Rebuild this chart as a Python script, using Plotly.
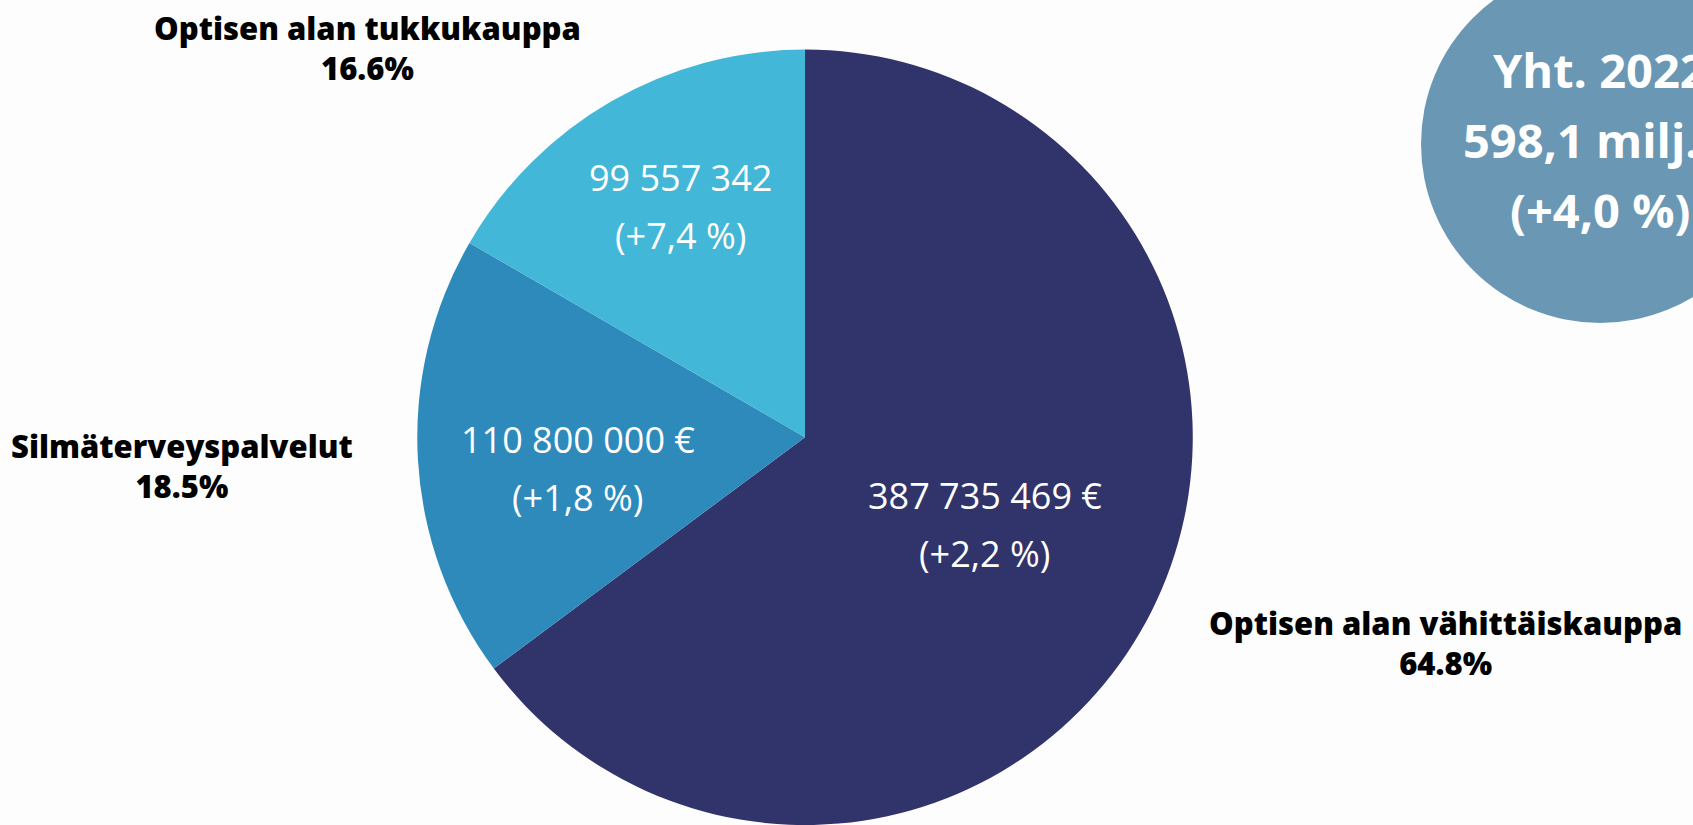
import math
import plotly.graph_objects as go

# ---- data ----
categories = ["Optisen alan vähittäiskauppa", "Silmäterveyspalvelut", "Optisen alan tukkukauppa"]
values = [387735469, 110800000, 99557342]
value_labels = ["387 735 469 €", "110 800 000 €", "99 557 342"]
change_labels = ["(+2,2 %)", "(+1,8 %)", "(+7,4 %)"]
total_lines = ["Yht. 2022", "598,1 milj. €", "(+4,0 %)"]

# ---- style / layout ----
W, H = 1693, 825
colors = ["#31346b", "#2d8aba", "#43b7d7"]
bubble_color = "#6a98b4"
pie_domain_x = [0.246, 0.705]
pie_domain_y = [0.0, 0.94]
# inside-label placement: (angle offset from slice middle in degrees, radius fraction)
label_polar = [(-0.9, 0.515), (-4.6, 0.592), (1.6, 0.677)]
inside_line_gap = 58                    # px between the two inside lines
outside_pos = [(1445, 643), (182, 466), (367, 47.5)]  # px centres of outside labels

fig = go.Figure()
fig.add_trace(go.Pie(
    labels=categories,
    values=values,
    sort=False,
    direction="clockwise",
    rotation=0,
    marker=dict(colors=colors, line=dict(width=0)),
    textinfo="none",
    hoverinfo="label+value+percent",
    showlegend=False,
    domain=dict(x=pie_domain_x, y=pie_domain_y),
))

# pie geometry in pixels (margins are zero)
cx = (pie_domain_x[0] + pie_domain_x[1]) / 2 * W
cy = (1 - (pie_domain_y[0] + pie_domain_y[1]) / 2) * H
R = min((pie_domain_x[1] - pie_domain_x[0]) * W, (pie_domain_y[1] - pie_domain_y[0]) * H) / 2

def px2paper(x, y):
    return x / W, 1 - y / H

annotations = []
total = sum(values)
cum = 0
for i, v in enumerate(values):
    mid = (cum + v / 2) / total * 2 * math.pi
    cum += v
    dang, frac = label_polar[i]
    ang = mid + math.radians(dang)
    r = frac * R
    lx = cx + r * math.sin(ang)
    ly = cy - r * math.cos(ang)
    for j, txt in enumerate([value_labels[i], change_labels[i]]):
        yy = ly + (j - 0.5) * inside_line_gap
        px, py = px2paper(lx, yy)
        annotations.append(dict(
            x=px, y=py, xref="paper", yref="paper", text=txt, showarrow=False,
            xanchor="center", yanchor="middle",
            font=dict(family="Open Sans", size=36, color="white"),
        ))
    pct = v / total * 100
    ox, oy = px2paper(*outside_pos[i])
    annotations.append(dict(
        x=ox, y=oy, xref="paper", yref="paper",
        text=f"{categories[i]}<br>{pct:.1f}%", showarrow=False,
        xanchor="center", yanchor="middle", align="center",
        font=dict(family="Open Sans", size=31, color="black", weight=800),
    ))

# total bubble
bcx, bcy, br = 1600, 144, 179
fig.add_shape(type="circle", xref="paper", yref="paper",
              x0=(bcx - br) / W, x1=(bcx + br) / W,
              y0=1 - (bcy + br) / H, y1=1 - (bcy - br) / H,
              fillcolor=bubble_color, line=dict(width=0), layer="below")
for k, txt in enumerate(total_lines):
    px, py = px2paper(bcx, 70 + k * 70)
    annotations.append(dict(
        x=px, y=py, xref="paper", yref="paper", text=f"<b>{txt}</b>", showarrow=False,
        xanchor="center", yanchor="middle",
        font=dict(family="Open Sans", size=47, color="white"),
    ))

fig.update_layout(
    width=W, height=H,
    margin=dict(l=0, r=0, t=0, b=0),
    paper_bgcolor="#fdfdfd",
    plot_bgcolor="#fdfdfd",
    annotations=annotations,
)

fig.write_html(
    "out.html",
    config={"displayModeBar": False},
    post_script="document.body.style.margin='0';document.body.style.overflow='hidden';",
)
